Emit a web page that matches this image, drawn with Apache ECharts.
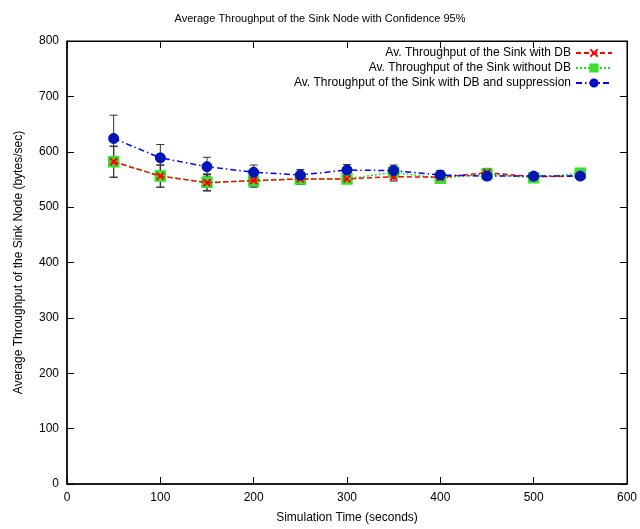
<!DOCTYPE html>
<html>
<head>
<meta charset="utf-8">
<script src="https://cdn.jsdelivr.net/npm/echarts@6/dist/echarts.min.js"></script>
<style>html,body{margin:0;padding:0;background:#fff}#c{width:640px;height:529px}</style>
</head>
<body>
<div id="c"></div>
<script>
var times = [50, 100, 150, 200, 250, 300, 350, 400, 450, 500, 550];
var withDB = [582, 556, 544, 548, 551, 551, 555, 554, 562, 555, 556];
var withDBErr = [28, 20, 15, 11, 10, 8, 8, 7, 8, 6, 6];
var withoutDB = [582, 556, 545, 547, 551, 551, 563, 552, 560, 553, 561];
var withoutDBErr = [28, 20, 15, 11, 10, 8, 8, 7, 8, 6, 6];
var suppr = [624, 589, 573, 563, 558, 567, 566, 558, 556, 556, 556];
var supprErr = [42, 24, 17, 13, 10, 10, 10, 8, 7, 6, 6];
var xTicks = [0, 100, 200, 300, 400, 500, 600];
var yTicks = [0, 100, 200, 300, 400, 500, 600, 700, 800];

var names = [
  'Av. Throughput of the Sink with DB',
  'Av. Throughput of the Sink without DB',
  'Av. Throughput of the Sink with DB and suppression'
];
function pts(v) { return times.map(function (t, i) { return [t, v[i]]; }); }
function errs(v, e) { return times.map(function (t, i) { return [t, v[i] - e[i], v[i] + e[i]]; }); }
function errSeries(v, e) {
  return {
    type: 'custom', z: 1, silent: true,
    data: errs(v, e),
    renderItem: function (params, api) {
      var lo = api.coord([api.value(0), api.value(1)]);
      var hi = api.coord([api.value(0), api.value(2)]);
      var w = 4;
      var st = { stroke: '#333', lineWidth: 1 };
      return { type: 'group', children: [
        { type: 'line', shape: { x1: lo[0], y1: lo[1], x2: hi[0], y2: hi[1] }, style: st },
        { type: 'line', shape: { x1: lo[0] - w, y1: lo[1], x2: lo[0] + w, y2: lo[1] }, style: st },
        { type: 'line', shape: { x1: hi[0] - w, y1: hi[1], x2: hi[0] + w, y2: hi[1] }, style: st }
      ] };
    }
  };
}
var font = 'Liberation Sans, Arial, sans-serif';
var chart = echarts.init(document.getElementById('c'));
chart.setOption({
  animation: false,
  backgroundColor: '#fff',
  title: {
    text: 'Average Throughput of the Sink Node with Confidence 95%',
    left: 'center', top: 8,
    textStyle: { fontFamily: font, fontSize: 11, fontWeight: 'normal', color: '#000' }
  },
  legend: {
    orient: 'vertical', right: 22, top: 42, align: 'right', itemGap: 3,
    itemWidth: 36, itemHeight: 9,
    textStyle: { fontFamily: font, fontSize: 12, color: '#000' },
    data: names
  },
  grid: { left: 67, right: 12, top: 41, bottom: 43, show: true, borderColor: '#000', borderWidth: 1 },
  xAxis: [{
    type: 'value', min: 0, max: 600, interval: 100,
    name: 'Simulation Time (seconds)', nameLocation: 'middle', nameGap: 28,
    nameTextStyle: { fontFamily: font, fontSize: 12, color: '#000' },
    axisLine: { show: true, lineStyle: { color: '#000', width: 1.5 } },
    axisTick: { inside: true, length: 7, lineStyle: { color: '#000' } },
    axisLabel: { fontFamily: font, fontSize: 12, color: '#000', margin: 8 },
    splitLine: { show: false }
  }, {
    type: 'value', position: 'top', min: 0, max: 600, interval: 100,
    axisLine: { show: true, onZero: false, lineStyle: { color: '#000' } },
    axisTick: { show: true, inside: true, length: 7, lineStyle: { color: '#000' } },
    axisLabel: { show: false }, splitLine: { show: false }
  }],
  yAxis: [{
    type: 'value', min: 0, max: 800, interval: 100,
    name: 'Average Throughput of the Sink Node (bytes/sec)', nameLocation: 'middle', nameGap: 42,
    nameTextStyle: { fontFamily: font, fontSize: 12, color: '#000' },
    axisLine: { show: true, lineStyle: { color: '#000', width: 1.5 } },
    axisTick: { inside: true, length: 7, lineStyle: { color: '#000' } },
    axisLabel: { fontFamily: font, fontSize: 12, color: '#000', margin: 8 },
    splitLine: { show: false }
  }, {
    type: 'value', position: 'right', min: 0, max: 800, interval: 100,
    axisLine: { show: true, onZero: false, lineStyle: { color: '#000' } },
    axisTick: { show: true, inside: true, length: 7, lineStyle: { color: '#000' } },
    axisLabel: { show: false }, splitLine: { show: false }
  }],
  series: [
    { type: 'line', xAxisIndex: 1, yAxisIndex: 1, data: [], silent: true },
    errSeries(withDB, withDBErr),
    errSeries(withoutDB, withoutDBErr),
    errSeries(suppr, supprErr),
    {
      name: names[0], type: 'line', z: 3, data: pts(withDB),
      symbol: 'path://M0,0 L10,10 M10,0 L0,10', symbolSize: 7,
      color: '#ff0000',
      lineStyle: { color: '#ff0000', width: 1.5, type: [5, 3] },
      itemStyle: { color: '#ff0000', borderColor: '#ff0000', borderWidth: 2 }
    },
    {
      name: names[1], type: 'line', z: 2, data: pts(withoutDB),
      symbol: 'rect', symbolSize: 10,
      color: '#22dd22',
      lineStyle: { color: '#22dd22', width: 1.5, type: [2, 2] },
      itemStyle: { color: '#55cc44', borderColor: '#22ee22', borderWidth: 1.5 }
    },
    {
      name: names[2], type: 'line', z: 4, data: pts(suppr),
      symbol: 'circle', symbolSize: 10,
      color: '#0000ff',
      lineStyle: { color: '#0000ff', width: 1.5, type: [6, 3, 1.5, 3] },
      itemStyle: { color: '#0018b0', borderColor: '#0000dd', borderWidth: 1 }
    }
  ]
});
</script>
</body>
</html>
